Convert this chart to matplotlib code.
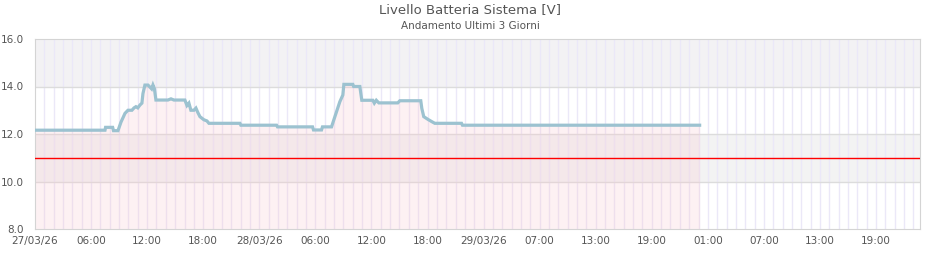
import numpy as np
import matplotlib
matplotlib.use('Agg')
import matplotlib.pyplot as plt

# hours from 27/03/26 00:00 and battery voltage
hours = [0.0, 7.49, 7.55, 8.31, 8.4, 8.88, 9.2, 9.63, 9.95, 10.37, 10.6, 10.8, 11.0, 11.23,
         11.44, 11.55, 11.76, 12.09, 12.48, 12.62, 12.78, 12.94, 14.22, 14.55, 14.87, 16.04,
         16.26, 16.47, 16.68, 17.0, 17.22, 17.43, 17.65, 18.07, 18.4, 18.61, 21.93, 22.03,
         25.85, 25.95, 29.7, 29.8, 30.66, 30.76, 31.73, 32.09, 32.62, 32.94, 33.05, 34.01,
         34.1, 34.76, 34.97, 36.15, 36.31, 36.52, 36.79, 38.82, 39.04, 41.28, 41.39, 41.6,
         42.03, 42.46, 42.78, 45.64, 45.74, 71.12]
volts = [12.16, 12.16, 12.28, 12.28, 12.14, 12.14, 12.5, 12.87, 13.0, 13.0, 13.1, 13.15, 13.1, 13.22,
         13.3, 13.7, 14.06, 14.06, 13.9, 14.06, 13.9, 13.43, 13.43, 13.48, 13.43, 13.43,
         13.2, 13.3, 13.0, 13.0, 13.09, 12.9, 12.73, 12.6, 12.55, 12.45, 12.45, 12.37,
         12.37, 12.3, 12.3, 12.17, 12.17, 12.3, 12.3, 12.73, 13.36, 13.64, 14.09, 14.09,
         14.0, 14.0, 13.42, 13.42, 13.3, 13.42, 13.31, 13.31, 13.4, 13.4, 13.08, 12.73,
         12.62, 12.52, 12.45, 12.45, 12.37, 12.37]

tick_pos = [0, 6, 12, 18, 24, 30, 36, 42, 48, 54, 60, 66, 72, 78, 84, 90]
tick_labels = ['27/03/26', '06:00', '12:00', '18:00', '28/03/26', '06:00', '12:00', '18:00',
               '29/03/26', '07:00', '13:00', '19:00', '01:00', '07:00', '13:00', '19:00']
threshold = 11.0

fig = plt.figure(figsize=(9.4, 2.6), dpi=100)
ax = fig.add_axes([35/940, 1 - 229/260, 885/940, 190/260])
ax.set_xlim(0, 94.7)
ax.set_ylim(8, 16)

# bands
ax.axhspan(14, 16, color='#f3f2f4', zorder=0, lw=0)
ax.axhspan(10, 12, color='#f3f3f3', zorder=0, lw=0)
for h in range(1, 95):
    ax.axvline(h, color='#ebe8f8', lw=1, zorder=1)
for y in [10, 12, 14]:
    ax.axhline(y, color='#dcdcdc', lw=1, zorder=1)

ax.fill_between(hours, 8, volts, color='#f8c8d0', alpha=0.25, lw=0, zorder=2)
ax.plot(hours, volts, color='#9cc2d0', lw=2.3, zorder=4, solid_joinstyle='miter')
ax.axhline(threshold, color='#ff0000', lw=1.0, zorder=5)

ax.set_xticks(tick_pos)
ax.set_xticklabels(tick_labels)
ax.set_yticks([8, 10, 12, 14, 16])
ax.set_yticklabels(['8.0', '10.0', '12.0', '14.0', '16.0'])
ax.tick_params(length=0, labelsize=7.5, colors='#555555', pad=5)
ax.tick_params(axis='y', pad=8)
for s in ax.spines.values():
    s.set_color('#d4d4d4')

fig.text(0.5, 0.962, 'Livello Batteria Sistema [V]', ha='center', va='center', fontsize=9.5, color='#555555')
fig.text(0.5, 0.9, 'Andamento Ultimi 3 Giorni', ha='center', va='center', fontsize=7.5, color='#555555')

fig.savefig('out.png', dpi=100)
